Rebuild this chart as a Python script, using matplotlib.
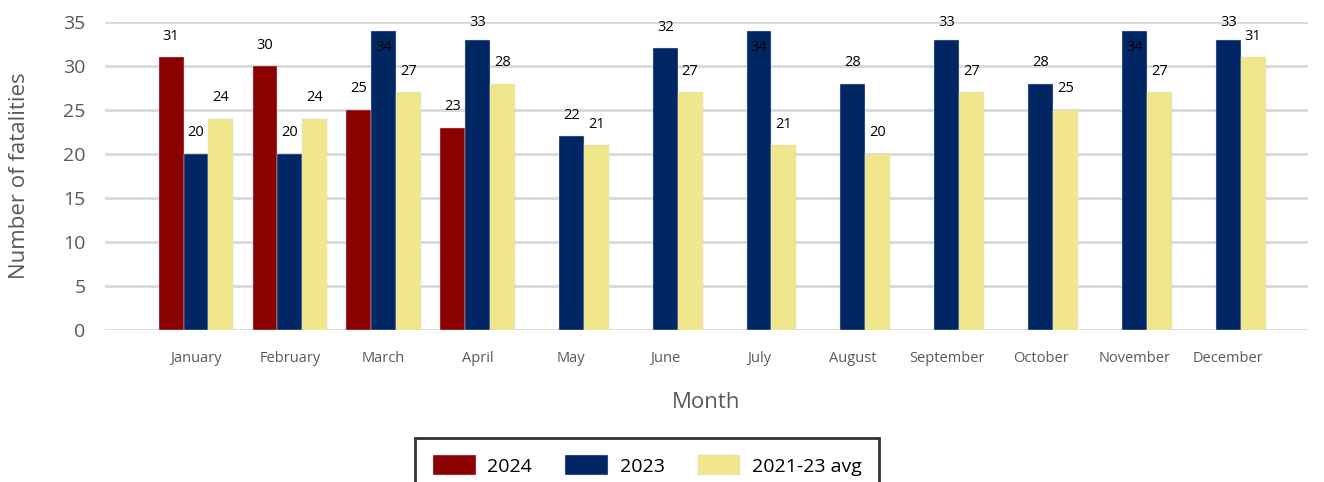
import numpy as np
import matplotlib
matplotlib.use('Agg')
import matplotlib.pyplot as plt

months = ['January', 'February', 'March', 'April', 'May', 'June', 'July',
          'August', 'September', 'October', 'November', 'December']
y2024 = [31, 30, 25, 23, None, None, None, None, None, None, None, None]
y2023 = [20, 20, 34, 33, 22, 32, 34, 28, 33, 28, 34, 33]
avg2123 = [24, 24, 27, 28, 21, 27, 21, 20, 27, 25, 27, 31]

series = [('2024', y2024, '#8B0000'),
          ('2023', y2023, '#002664'),
          ('2021-23 avg', avg2123, '#F0E68C')]

plt.rcParams['font.family'] = ['Open Sans', 'DejaVu Sans']

fig = plt.figure(figsize=(13.24, 4.82), dpi=100)
ax = fig.add_axes([105/1324, 1-330/482, 1203/1324, 308/482])

x = np.arange(len(months))
w = 0.265
px = 308/35.0  # pixels per unit

for i, (name, vals, col) in enumerate(series):
    off = (i - 1) * w
    xs = [x[j] + off for j in range(len(vals)) if vals[j] is not None]
    vs = [v for v in vals if v is not None]
    ax.bar(xs, vs, w, color=col, label=name, edgecolor='#d8dce6', linewidth=0.3, zorder=3)
    for xx, v in zip(xs, vs):
        if v >= 34:
            ty = v - 17/px
        else:
            ty = min(v + 21/px, 35)
        ax.text(xx, ty, str(v), ha='center', va='center', fontsize=10.5,
                color='black', zorder=4)

ax.set_xlim(-0.97, 11.85)
ax.set_ylim(0, 35)
ax.set_yticks(range(0, 36, 5))
ax.set_xticks(x)
ax.set_xticklabels(months, fontsize=10.5, color='#595959')
ax.tick_params(axis='y', labelsize=14, labelcolor='#595959', length=0, pad=14)
ax.tick_params(axis='x', length=0, pad=15)
ax.grid(axis='y', color='#d9d9d9', linewidth=2, zorder=0)
for s in ax.spines.values():
    s.set_visible(False)

ax.set_ylabel('Number of fatalities', fontsize=16, color='#595959', labelpad=24)
ax.set_xlabel('Month', fontsize=16, color='#595959', labelpad=19)

leg = fig.legend(loc='upper center', bbox_to_anchor=(0.489, 0.092), ncol=3,
                 fontsize=14, frameon=True, fancybox=False, handlelength=2.2,
                 handleheight=1.2, handletextpad=0.6, columnspacing=1.7,
                 borderpad=0.9, borderaxespad=0, edgecolor='black')
leg.get_frame().set_linewidth(2)

fig.savefig('out.png', dpi=100)
